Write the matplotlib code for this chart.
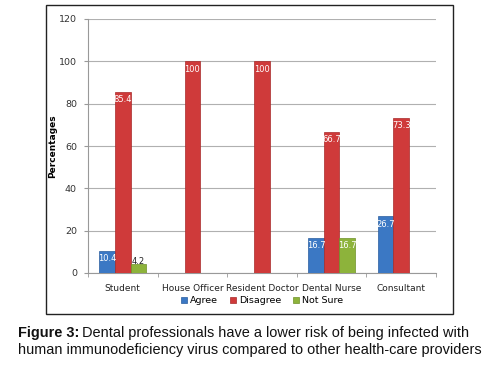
import matplotlib
matplotlib.use("Agg")
import matplotlib.pyplot as plt
from matplotlib.patches import Rectangle
import numpy as np

categories = ["Student", "House Officer", "Resident Doctor", "Dental Nurse", "Consultant"]
agree = [10.4, 0, 0, 16.7, 26.7]
disagree = [85.4, 100, 100, 66.7, 73.3]
not_sure = [4.2, 0, 0, 16.7, 0]
series_names = ["Agree", "Disagree", "Not Sure"]
yticks = [0, 20, 40, 60, 80, 100, 120]

W, H = 493, 366
fig = plt.figure(figsize=(W / 100, H / 100), dpi=100)
fig.patch.set_facecolor("white")

# outer chart box
fig.add_artist(Rectangle((46 / W, 1 - 314 / H), (453 - 46) / W, (314 - 5) / H,
                         transform=fig.transFigure, fill=False, edgecolor="#222222", lw=1.0))

ax = fig.add_axes([88 / W, 1 - 273 / H, (436 - 88) / W, (273 - 19) / H])
colors = ["#3b78c4", "#cf3a3a", "#8db33b"]
edge = ["#2a5d9e", "#a82a2a", "#6e9128"]
x = np.arange(len(categories))
bw = 0.225
for i, (vals, c, ec, name) in enumerate(zip([agree, disagree, not_sure], colors, edge, series_names)):
    pos = x + (i - 1) * bw
    ax.bar(pos, vals, width=bw, color=c, edgecolor=ec, lw=0.5, label=name, zorder=3)
    for p, v in zip(pos, vals):
        if v > 0:
            tc = "white" if v > 10 else "#222222"
            ax.text(p, v - 1.5 if v > 10 else v - 0.8, f"{v:g}", ha="center",
                    va="top" if v > 10 else "bottom", fontsize=6, color=tc, zorder=4)

ax.set_xlim(-0.5, len(categories) - 0.5)
ax.set_ylim(0, 120)
ax.set_yticks(yticks)
ax.set_yticklabels([str(t) for t in yticks], fontsize=6.8, color="#333333")
ax.yaxis.grid(True, color="#b0b0b0", lw=0.8, zorder=0)
ax.set_xticks(x)
ax.set_xticklabels(categories, fontsize=6.5, color="#222222")
ax.set_xticks(np.arange(-0.5, len(categories)), minor=True)
ax.tick_params(axis="x", which="major", length=0, pad=8)
ax.tick_params(axis="x", which="minor", length=3, color="#999999")
ax.tick_params(axis="y", length=3, color="#999999", pad=5)
for s in ["top", "right"]:
    ax.spines[s].set_visible(False)
ax.spines["left"].set_color("#999999")
ax.spines["bottom"].set_color("#999999")
ax.set_ylabel("Percentages", fontsize=6.5, fontweight="bold")
ax.yaxis.set_label_coords(-0.089, 0.5)

ax.legend(loc="upper center", bbox_to_anchor=(0.5, -0.065), ncol=3, frameon=False,
          fontsize=6.8, handlelength=0.7, handleheight=0.7, handletextpad=0.3,
          columnspacing=1.2, borderpad=0.2)

fs = 10.45
t1 = fig.text(18 / W, 1 - 333 / H, "Figure 3:", ha="left", va="center", fontsize=fs,
              family="Liberation Sans", fontweight="bold", color="#111111")
fig.canvas.draw()
bb = t1.get_window_extent(fig.canvas.get_renderer())
fig.text((bb.x1 + 3) / W, 1 - 333 / H,
         "Dental professionals have a lower risk of being infected with",
         ha="left", va="center", fontsize=fs, family="Liberation Sans", color="#111111")
fig.text(18 / W, 1 - 350 / H,
         "human immunodeficiency virus compared to other health-care providers",
         ha="left", va="center", fontsize=fs, family="Liberation Sans", color="#111111")

fig.savefig("out.png", dpi=100)
